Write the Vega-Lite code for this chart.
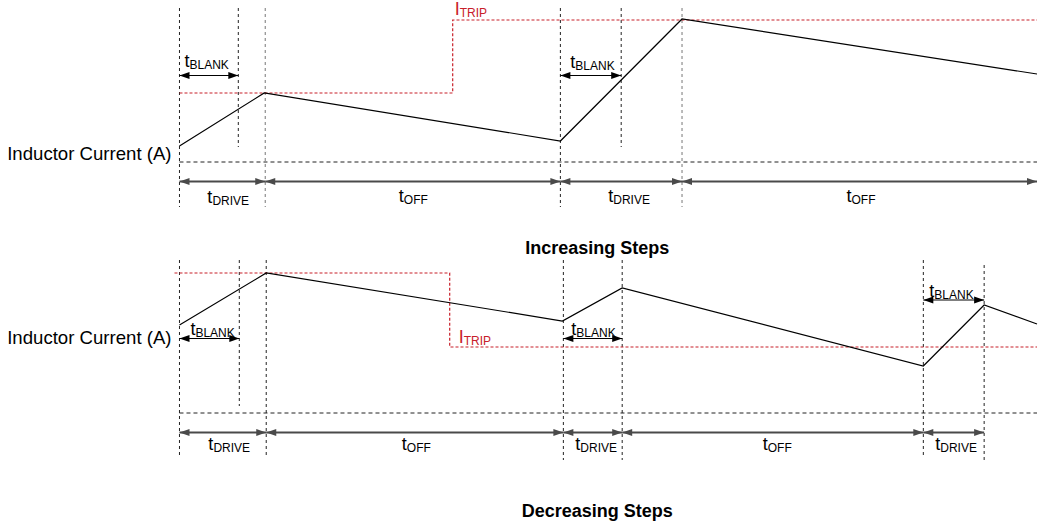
{
  "$schema": "https://vega.github.io/schema/vega-lite/v6.json",
  "width": 1040,
  "height": 526,
  "padding": 0,
  "autosize": {"type": "fit", "contains": "padding"},
  "background": "white",
  "config": {"view": {"stroke": null}, "font": "Liberation Sans"},
  "datasets": {
    "vlines": [
      {"t": 180, "y1": 8, "y2": 207, "kind": "dark"},
      {"t": 239, "y1": 8, "y2": 147, "kind": "dark"},
      {"t": 266, "y1": 8, "y2": 207, "kind": "gray"},
      {"t": 562, "y1": 8, "y2": 207, "kind": "dark"},
      {"t": 623, "y1": 8, "y2": 147, "kind": "dark"},
      {"t": 684, "y1": 8, "y2": 207, "kind": "gray"},
      {"t": 180, "y1": 260, "y2": 458, "kind": "dark"},
      {"t": 240, "y1": 260, "y2": 406, "kind": "dark"},
      {"t": 267, "y1": 260, "y2": 458, "kind": "dark"},
      {"t": 565, "y1": 260, "y2": 460, "kind": "dark"},
      {"t": 624, "y1": 260, "y2": 460, "kind": "dark"},
      {"t": 926, "y1": 260, "y2": 458, "kind": "dark"},
      {"t": 987, "y1": 265, "y2": 463, "kind": "dark"}
    ],
    "baselines": [
      {"t1": 180, "t2": 1040, "y": 162},
      {"t1": 180, "t2": 1040, "y": 413}
    ],
    "current": [
      {"panel": "inc", "seq": 1, "t": 180, "y": 146},
      {"panel": "inc", "seq": 2, "t": 265, "y": 93},
      {"panel": "inc", "seq": 3, "t": 562, "y": 141},
      {"panel": "inc", "seq": 4, "t": 684, "y": 19},
      {"panel": "inc", "seq": 5, "t": 1040, "y": 74},
      {"panel": "dec", "seq": 1, "t": 180, "y": 325},
      {"panel": "dec", "seq": 2, "t": 267, "y": 273},
      {"panel": "dec", "seq": 3, "t": 564, "y": 321},
      {"panel": "dec", "seq": 4, "t": 624, "y": 288},
      {"panel": "dec", "seq": 5, "t": 926, "y": 366},
      {"panel": "dec", "seq": 6, "t": 987, "y": 305},
      {"panel": "dec", "seq": 7, "t": 1040, "y": 324}
    ],
    "trip": [
      {"panel": "inc", "seq": 1, "t": 180, "y": 93},
      {"panel": "inc", "seq": 2, "t": 454, "y": 93},
      {"panel": "inc", "seq": 3, "t": 454, "y": 20},
      {"panel": "inc", "seq": 4, "t": 1040, "y": 20},
      {"panel": "dec", "seq": 1, "t": 175, "y": 273},
      {"panel": "dec", "seq": 2, "t": 451, "y": 273},
      {"panel": "dec", "seq": 3, "t": 451, "y": 347},
      {"panel": "dec", "seq": 4, "t": 1040, "y": 347}
    ],
    "dims": [
      {"x1": 180, "x2": 266, "y": 181.5, "kind": "main"},
      {"x1": 266, "x2": 562, "y": 181.5, "kind": "main"},
      {"x1": 562, "x2": 684, "y": 181.5, "kind": "main"},
      {"x1": 684, "x2": 1040, "y": 181.5, "kind": "main"},
      {"x1": 180, "x2": 239, "y": 75.5, "kind": "blank"},
      {"x1": 562, "x2": 623, "y": 75.5, "kind": "blank"},
      {"x1": 180, "x2": 267, "y": 432.5, "kind": "main"},
      {"x1": 267, "x2": 565, "y": 432.5, "kind": "main"},
      {"x1": 565, "x2": 624, "y": 432.5, "kind": "main"},
      {"x1": 624, "x2": 926, "y": 432.5, "kind": "main"},
      {"x1": 926, "x2": 987, "y": 432.5, "kind": "main"},
      {"x1": 180, "x2": 240, "y": 338.5, "kind": "blank"},
      {"x1": 565, "x2": 624, "y": 338.5, "kind": "blank"},
      {"x1": 926, "x2": 987, "y": 300, "kind": "blank"}
    ],
    "labels": [
      {"t": 190, "y": 67, "main": "t", "sub": "BLANK", "kind": "time"},
      {"t": 577, "y": 68, "main": "t", "sub": "BLANK", "kind": "time"},
      {"t": 461, "y": 15, "main": "I", "sub": "TRIP", "kind": "trip"},
      {"t": 213, "y": 203, "main": "t", "sub": "DRIVE", "kind": "time"},
      {"t": 405, "y": 202, "main": "t", "sub": "OFF", "kind": "time"},
      {"t": 615, "y": 202, "main": "t", "sub": "DRIVE", "kind": "time"},
      {"t": 854, "y": 202, "main": "t", "sub": "OFF", "kind": "time"},
      {"t": 196, "y": 335, "main": "t", "sub": "BLANK", "kind": "time"},
      {"t": 578, "y": 335, "main": "t", "sub": "BLANK", "kind": "time"},
      {"t": 937, "y": 297, "main": "t", "sub": "BLANK", "kind": "time"},
      {"t": 465, "y": 343, "main": "I", "sub": "TRIP", "kind": "trip"},
      {"t": 214, "y": 450, "main": "t", "sub": "DRIVE", "kind": "time"},
      {"t": 408, "y": 450, "main": "t", "sub": "OFF", "kind": "time"},
      {"t": 582, "y": 450, "main": "t", "sub": "DRIVE", "kind": "time"},
      {"t": 770, "y": 450, "main": "t", "sub": "OFF", "kind": "time"},
      {"t": 943, "y": 450, "main": "t", "sub": "DRIVE", "kind": "time"}
    ],
    "ylabels": [
      {"t": 172, "y": 160, "text": "Inductor Current (A)"},
      {"t": 172, "y": 344, "text": "Inductor Current (A)"}
    ],
    "titles": [
      {"t": 599, "y": 254, "text": "Increasing Steps"},
      {"t": 599, "y": 517, "text": "Decreasing Steps"}
    ]
  },
  "layer": [
    {
      "data": {"name": "vlines"},
      "mark": {"type": "rule", "strokeDash": [3, 3], "strokeWidth": 1},
      "encoding": {
        "x": {"field": "t", "type": "quantitative", "axis": null, "scale": {"domain": [0, 1040], "nice": false, "zero": false}},
        "y": {"field": "y1", "type": "quantitative", "axis": null, "scale": {"domain": [0, 526], "reverse": true, "nice": false, "zero": false}},
        "y2": {"field": "y2"},
        "color": {"field": "kind", "type": "nominal", "legend": null, "scale": {"domain": ["dark", "gray", "main", "blank", "time", "trip"], "range": ["#222222", "#777777", "#4a4a4a", "#000000", "#000000", "#c8202a"]}}
      }
    },
    {
      "data": {"name": "baselines"},
      "mark": {"type": "rule", "strokeDash": [4, 3], "strokeWidth": 1, "color": "#222222"},
      "encoding": {
        "x": {"field": "t1", "type": "quantitative"},
        "x2": {"field": "t2"},
        "y": {"field": "y", "type": "quantitative"}
      }
    },
    {
      "data": {"name": "trip"},
      "mark": {"type": "line", "strokeDash": [3, 2], "strokeWidth": 1.2, "color": "#c8202a"},
      "encoding": {
        "x": {"field": "t", "type": "quantitative"},
        "y": {"field": "y", "type": "quantitative"},
        "detail": {"field": "panel"},
        "order": {"field": "seq", "type": "quantitative"}
      }
    },
    {
      "data": {"name": "current"},
      "mark": {"type": "line", "strokeWidth": 1.2, "color": "#000000"},
      "encoding": {
        "x": {"field": "t", "type": "quantitative"},
        "y": {"field": "y", "type": "quantitative"},
        "detail": {"field": "panel"},
        "order": {"field": "seq", "type": "quantitative"}
      }
    },
    {
      "data": {"name": "dims"},
      "mark": {"type": "rule"},
      "encoding": {
        "x": {"field": "x1", "type": "quantitative"},
        "x2": {"field": "x2"},
        "y": {"field": "y", "type": "quantitative"},
        "color": {"field": "kind", "type": "nominal", "legend": null},
        "strokeWidth": {"field": "kind", "type": "nominal", "legend": null, "scale": {"domain": ["main", "blank"], "range": [1.8, 1.2]}}
      }
    },
    {
      "data": {"name": "dims"},
      "transform": [{"fold": ["x1", "x2"], "as": ["end", "xe"]}],
      "mark": {"type": "point", "filled": true, "opacity": 1, "size": 400, "strokeWidth": 0},
      "encoding": {
        "x": {"field": "xe", "type": "quantitative"},
        "y": {"field": "y", "type": "quantitative"},
        "shape": {"field": "end", "type": "nominal", "legend": null, "scale": {"domain": ["x1", "x2"], "range": ["M0,0L1,-0.36L1,0.36Z", "M0,0L-1,-0.36L-1,0.36Z"]}},
        "color": {"field": "kind", "type": "nominal", "legend": null}
      }
    },
    {
      "data": {"name": "labels"},
      "mark": {"type": "text", "align": "right", "baseline": "alphabetic", "fontSize": 18, "font": "Liberation Sans"},
      "encoding": {
        "x": {"field": "t", "type": "quantitative"},
        "y": {"field": "y", "type": "quantitative"},
        "text": {"field": "main"},
        "color": {"field": "kind", "type": "nominal", "legend": null}
      }
    },
    {
      "data": {"name": "labels"},
      "mark": {"type": "text", "align": "left", "baseline": "alphabetic", "fontSize": 12, "dy": 1.5, "font": "Liberation Sans"},
      "encoding": {
        "x": {"field": "t", "type": "quantitative"},
        "y": {"field": "y", "type": "quantitative"},
        "text": {"field": "sub"},
        "color": {"field": "kind", "type": "nominal", "legend": null}
      }
    },
    {
      "data": {"name": "ylabels"},
      "mark": {"type": "text", "align": "right", "baseline": "alphabetic", "fontSize": 18.6, "font": "Liberation Sans", "color": "#000000"},
      "encoding": {
        "x": {"field": "t", "type": "quantitative"},
        "y": {"field": "y", "type": "quantitative"},
        "text": {"field": "text"}
      }
    },
    {
      "data": {"name": "titles"},
      "mark": {"type": "text", "align": "center", "baseline": "alphabetic", "fontSize": 18, "fontWeight": "bold", "font": "Liberation Sans", "color": "#000000"},
      "encoding": {
        "x": {"field": "t", "type": "quantitative"},
        "y": {"field": "y", "type": "quantitative"},
        "text": {"field": "text"}
      }
    }
  ]
}
